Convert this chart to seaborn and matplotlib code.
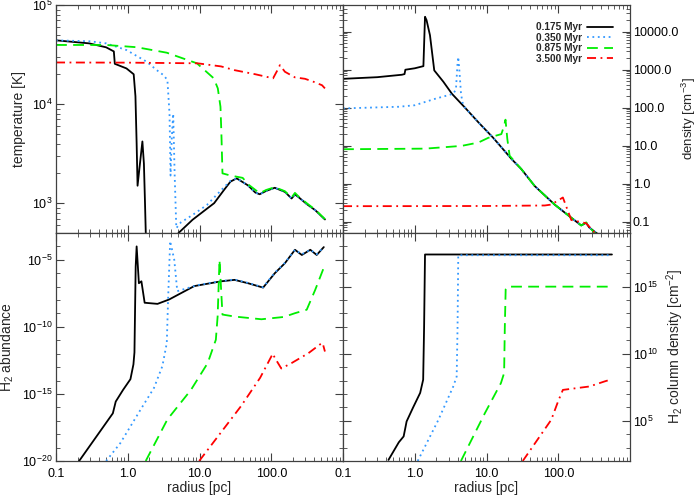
import matplotlib
matplotlib.use("Agg")
import matplotlib.pyplot as plt
import numpy as np
import pandas as pd
import seaborn as sns
from matplotlib.ticker import FixedLocator, FixedFormatter, LogLocator, NullFormatter

# ages of the four snapshots
ages = ["0.175 Myr", "0.350 Myr", "0.875 Myr", "3.500 Myr"]

# temperature [K] vs radius [pc]
r_temp_a = [0.1, 0.29, 0.5, 0.64, 0.66, 0.96, 1.21, 1.28, 1.33, 1.37, 1.45, 1.6, 1.68, 1.74, 1.79,
            2.5, 4.6, 5.1, 8.0, 12.7, 16.0, 21.8, 27.0, 33.0, 47.5, 60.0, 69.0, 85.0, 112.0, 155.0,
            192.0, 214.0, 240.0, 312.0, 410.0, 560.0]
temp_a = [44000, 41000, 37400, 34000, 25500, 22900, 20000, 12000, 4000, 1500, 2200, 4200, 2500, 1000, 450,
          250, 440, 500, 680, 880, 1000, 1350, 1650, 1780, 1510, 1280, 1230, 1330, 1430, 1300,
          1115, 1225, 1150, 980, 850, 685]
r_temp_b = [0.1, 0.3, 0.5, 0.96, 1.83, 2.54, 3.15, 3.57, 3.82, 3.95, 4.1, 4.3, 4.5, 4.75, 5.5,
            8.0, 12.7, 20.0, 27.0, 33.0, 47.5, 60.0, 69.0, 85.0, 112.0, 155.0, 192.0, 214.0, 240.0,
            312.0, 410.0, 560.0]
temp_b = [44000, 43000, 41000, 35100, 26800, 22000, 19600, 17500, 8000, 1900, 4500, 8000, 2000, 560, 640,
          760, 960, 1350, 1680, 1780, 1510, 1280, 1230, 1330, 1430, 1300, 1115, 1225, 1150,
          980, 850, 685]
r_temp_c = [0.1, 0.5, 1.33, 3.5, 9.2, 15.8, 18.0, 19.6, 20.2, 20.9, 27.0, 33.0, 40.0, 47.5, 69.0,
            85.0, 112.0, 155.0, 192.0, 214.0, 240.0, 312.0, 410.0, 560.0]
temp_c = [39500, 39500, 37500, 33000, 25800, 18200, 14400, 9400, 5000, 2000, 1900, 1850, 1800, 1550, 1260,
          1360, 1450, 1320, 1140, 1270, 1170, 1000, 860, 690]
r_temp_d = [0.1, 1.0, 3.0, 9.4, 20.0, 30.8, 60.0, 106.0, 120.0, 132.0, 155.0, 214.0, 295.0, 388.0, 510.0, 560.0]
temp_d = [26300, 26200, 26000, 25800, 24000, 22000, 20000, 18200, 21500, 24700, 21200, 18600, 18000, 16800,
          15500, 14400]

# density [cm^-3]
r_dens_a = [0.1, 0.3, 0.66, 0.72, 0.74, 1.0, 1.32, 1.39, 1.46, 1.63, 1.87, 2.5, 3.3, 5.0, 7.7, 12.4,
            22.4, 30.6, 47.0, 89.0, 152.0, 209.0, 245.0, 270.0, 340.0, 450.0, 560.0]
dens_a = [570, 630, 730, 760, 990, 1080, 1230, 24500, 20000, 8000, 950, 480, 230, 100, 41, 16,
          4.4, 2.4, 0.86, 0.28, 0.126, 0.079, 0.093, 0.07, 0.05, 0.035, 0.025]
r_dens_b = [0.1, 0.6, 1.0, 1.92, 3.44, 3.75, 3.95, 4.04, 4.15, 4.4, 4.6, 5.0, 7.7, 12.4, 22.4, 30.6,
            47.0, 89.0, 152.0, 209.0, 245.0, 270.0, 340.0, 450.0, 560.0]
dens_b = [95, 105, 115, 170, 230, 300, 1500, 2150, 1200, 250, 140, 100, 41, 16, 4.4, 2.4,
          0.86, 0.28, 0.126, 0.079, 0.093, 0.07, 0.05, 0.035, 0.025]
r_dens_c = [0.1, 1.4, 4.5, 7.7, 10.6, 16.1, 17.5, 18.4, 19.5, 21.0, 30.6, 47.0, 89.0, 152.0, 209.0,
            245.0, 290.0, 340.0, 450.0, 560.0]
dens_c = [8.0, 8.3, 9.8, 12, 16, 20, 32, 48, 15, 5.4, 2.4, 0.86, 0.28, 0.126, 0.079,
          0.095, 0.062, 0.045, 0.033, 0.025]
r_dens_d = [0.1, 1.0, 10.0, 65.0, 80.0, 116.0, 152.0, 217.0, 245.0, 320.0, 420.0, 560.0]
dens_d = [0.254, 0.255, 0.257, 0.265, 0.28, 0.43, 0.11, 0.095, 0.09, 0.052, 0.038, 0.027]

# H2 abundance
r_abun_a = [0.21, 0.62, 0.68, 0.86, 1.09, 1.2, 1.24, 1.29, 1.33, 1.43, 1.55, 1.72, 2.6, 3.77, 8.45,
            20.0, 30.8, 47.5, 77.0, 112.0, 155.0, 214.0, 267.0, 350.0, 430.0, 540.0]
abun_a = [1e-20, 3.6e-17, 2.7e-16, 2.0e-15, 1.26e-14, 1.6e-13, 1.26e-12, 3.2e-6, 1.0e-4, 1.8e-7, 2.5e-7,
          6.3e-9, 5.2e-9, 1.1e-8, 1.1e-7, 2.5e-7, 3.2e-7, 1.8e-7, 8.5e-8, 1.0e-6, 5.6e-6, 5.6e-5, 2.3e-5,
          5.6e-5, 2.3e-5, 8.9e-5]
r_abun_b = [0.5, 0.79, 1.51, 2.32, 3.04, 3.5, 3.65, 3.9, 4.45, 4.9, 9.4, 20.0, 30.8, 47.5, 77.0,
            112.0, 155.0, 214.0, 267.0, 350.0, 430.0, 540.0]
abun_b = [1e-20, 2.2e-19, 6.8e-17, 2.8e-15, 1.2e-13, 6.3e-12, 1.1e-8, 2.5e-4, 1.0e-5, 4.6e-8, 1.3e-7,
          2.6e-7, 3.4e-7, 1.9e-7, 9.0e-8, 1.1e-6, 6.0e-6, 5.6e-5, 2.6e-5, 5.6e-5, 2.6e-5, 8.9e-5]
r_abun_c = [1.78, 3.57, 7.6, 13.0, 16.9, 17.9, 19.0, 20.9, 30.8, 73.0, 150.0, 214.0, 312.0, 410.0, 560.0]
abun_c = [1e-20, 1.26e-17, 2e-15, 2e-13, 1.1e-11, 6.3e-10, 1e-5, 8.3e-10, 5.9e-10, 3.7e-10, 5.5e-10,
          1.05e-9, 1.9e-9, 5.8e-8, 4.3e-6]
r_abun_d = [9.9, 38.0, 70.0, 105.0, 112.0, 138.0, 192.0, 330.0, 480.0, 520.0, 560.0]
abun_d = [1e-20, 1.26e-16, 1.6e-14, 1e-12, 5e-13, 7.9e-14, 2e-13, 1.1e-12, 5e-12, 6.3e-12, 1.45e-12]

# H2 column density [cm^-2]
r_col_a = [0.43, 0.6, 0.70, 0.74, 0.77, 0.95, 1.19, 1.31, 1.35, 1.39, 560.0]
col_a = [1.2e2, 2.5e3, 6.8e3, 3e4, 8.9e4, 1e6, 1.2e7, 1.15e8, 1e12, 2.5e17, 2.5e17]
r_col_b = [1.1, 2.14, 3.44, 3.84, 3.95, 4.04, 560.0]
col_b = [1e2, 1.2e5, 3.6e7, 2e8, 1e12, 2.2e17, 2.2e17]
r_col_c = [4.4, 9.5, 15.9, 17.6, 18.0, 18.5, 19.6, 560.0]
col_c = [1e2, 3.7e5, 6.5e7, 3.6e8, 1e12, 6.3e14, 1e15, 1e15]
r_col_d = [32.0, 80.0, 100.0, 116.0, 272.0, 440.0, 560.0]
col_d = [1e2, 1.2e5, 3e6, 2e7, 3.6e7, 8.5e7, 1.26e8]

sns.set_theme(style="ticks")
plt.rcParams["font.family"] = ["Liberation Sans", "DejaVu Sans"]
plt.rcParams["mathtext.default"] = "regular"
plt.rcParams["axes.edgecolor"] = "0.25"
plt.rcParams["xtick.color"] = "0.25"
plt.rcParams["ytick.color"] = "0.25"
plt.rcParams["xtick.labelcolor"] = "black"
plt.rcParams["ytick.labelcolor"] = "black"

colors = ["black", "#3399ff", "#00ee00", "#ff0000"]
styles = ["-", (0, (1, 2)), (0, (6, 3.5)), (0, (5, 2.5, 1, 2.5))]

fig, axes = plt.subplots(2, 2, figsize=(7, 5), dpi=100, gridspec_kw=dict(hspace=0, wspace=0))
fig.subplots_adjust(left=0.08, right=0.9, bottom=0.078, top=0.99)

panels = {
    (0, 0): [(r_temp_a, temp_a), (r_temp_b, temp_b), (r_temp_c, temp_c), (r_temp_d, temp_d)],
    (0, 1): [(r_dens_a, dens_a), (r_dens_b, dens_b), (r_dens_c, dens_c), (r_dens_d, dens_d)],
    (1, 0): [(r_abun_a, abun_a), (r_abun_b, abun_b), (r_abun_c, abun_c), (r_abun_d, abun_d)],
    (1, 1): [(r_col_a, col_a), (r_col_b, col_b), (r_col_c, col_c), (r_col_d, col_d)],
}

for (i, j), series in panels.items():
    ax = axes[i, j]
    ax.set_xscale("log")
    ax.set_yscale("log")
    for (r, v), age, col, ls in zip(series, ages, colors, styles):
        df = pd.DataFrame({"radius": r, "value": v})
        sns.lineplot(data=df, x="radius", y="value", color=col, linestyle=ls, lw=1.3,
                     sort=False, estimator=None, label=age, legend=False, ax=ax)
    ax.set_xlim(0.1, 1000)
    ax.xaxis.set_major_locator(FixedLocator([0.1, 1, 10, 100]))
    ax.xaxis.set_major_formatter(FixedFormatter(["0.1", "1.0", "10.0", "100.0"]))
    ax.xaxis.set_minor_locator(LogLocator(base=10, subs=np.arange(2, 10), numticks=20))
    ax.xaxis.set_minor_formatter(NullFormatter())
    ax.tick_params(which="both", direction="in", top=True, bottom=True, left=True, right=True,
                   labelsize=9)
    ax.tick_params(axis="y", which="both", pad=2.5)
    ax.tick_params(axis="x", which="both", pad=5)
    ax.tick_params(which="major", length=6, width=0.8)
    ax.tick_params(which="minor", length=3, width=0.6)
    for s in ax.spines.values():
        s.set_linewidth(0.9)
    ax.set_xlabel("")
    ax.set_ylabel("")

# temperature
ax = axes[0, 0]
ax.set_ylim(500, 1e5)
ax.yaxis.set_major_locator(FixedLocator([1e3, 1e4, 1e5]))
ax.yaxis.set_major_formatter(FixedFormatter(["$10^3$", "$10^4$", "$10^5$"]))
ax.yaxis.set_minor_locator(LogLocator(base=10, subs=np.arange(2, 10), numticks=20))
ax.yaxis.set_minor_formatter(NullFormatter())
ax.tick_params(labelbottom=False)
ax.set_ylabel("temperature [K]", fontsize=10, labelpad=4)

# density
ax = axes[0, 1]
ax.set_ylim(0.05, 5e4)
ax.yaxis.set_major_locator(FixedLocator([0.1, 1, 10, 100, 1000, 10000]))
ax.yaxis.set_major_formatter(FixedFormatter(["0.1", "1.0", "10.0", "100.0", "1000.0", "10000.0"]))
ax.yaxis.set_minor_locator(LogLocator(base=10, subs=np.arange(2, 10), numticks=20))
ax.yaxis.set_minor_formatter(NullFormatter())
ax.tick_params(labelbottom=False, labelleft=False, labelright=True)
ax.tick_params(axis="y", which="both", pad=2)
ax.yaxis.set_label_position("right")
ax.set_ylabel("density [cm$^{-3}$]", fontsize=9.5, labelpad=1)
ax.legend(handles=ax.lines, labels=ages, loc="upper right", frameon=False, markerfirst=False,
          handlelength=2.5, handletextpad=0.5, labelspacing=0.05, borderaxespad=1.3,
          prop={"weight": "bold", "size": 7.3})

# H2 abundance
ax = axes[1, 0]
ax.set_ylim(1e-20, 1e-3)
ax.yaxis.set_major_locator(FixedLocator([1e-20, 1e-15, 1e-10, 1e-5]))
ax.yaxis.set_major_formatter(FixedFormatter(["$10^{-20}$", "$10^{-15}$", "$10^{-10}$", "$10^{-5}$"]))
ax.yaxis.set_minor_locator(FixedLocator(10.0 ** np.arange(-20, -2)))
ax.yaxis.set_minor_formatter(NullFormatter())
ax.set_ylabel("H$_2$ abundance", fontsize=10, labelpad=4)
ax.set_xlabel("radius [pc]", fontsize=10, labelpad=1)

# H2 column density
ax = axes[1, 1]
ax.set_ylim(1e2, 1e19)
ax.yaxis.set_major_locator(FixedLocator([1e5, 1e10, 1e15]))
ax.yaxis.set_major_formatter(FixedFormatter(["$10^5$", "$10^{10}$", "$10^{15}$"]))
ax.yaxis.set_minor_locator(FixedLocator(10.0 ** np.arange(2, 20)))
ax.yaxis.set_minor_formatter(NullFormatter())
ax.tick_params(labelleft=False, labelright=True)
ax.yaxis.set_label_position("right")
ax.set_ylabel("H$_2$ column density [cm$^{-2}$]", fontsize=10, labelpad=4)
ax.set_xlabel("radius [pc]", fontsize=10, labelpad=1)

fig.savefig("out.png", dpi=100)
